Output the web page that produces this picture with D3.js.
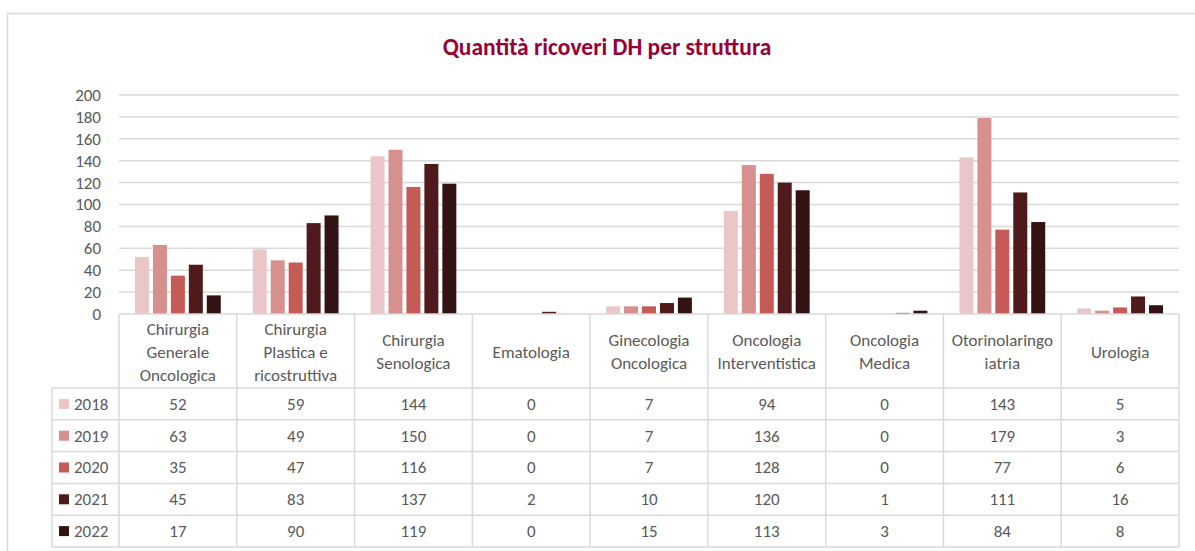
<!DOCTYPE html>
<html>
<head>
<meta charset="utf-8">
<script src="https://cdn.jsdelivr.net/npm/d3@7"></script>
<style>
  body { margin: 0; background: #fff; }
  text { font-family: Carlito, Lato, "Open Sans", sans-serif; }
</style>
</head>
<body>
<div class="chart"></div>
<script>
// data
var categories = ["Chirurgia Generale Oncologica", "Chirurgia Plastica e ricostruttiva", "Chirurgia Senologica",
  "Ematologia", "Ginecologia Oncologica", "Oncologia Interventistica", "Oncologia Medica",
  "Otorinolaringoiatria", "Urologia"]
var categoryLines = [["Chirurgia", "Generale", "Oncologica"], ["Chirurgia", "Plastica e", "ricostruttiva"],
  ["Chirurgia", "Senologica"], ["Ematologia"], ["Ginecologia", "Oncologica"], ["Oncologia", "Interventistica"],
  ["Oncologia", "Medica"], ["Otorinolaringo", "iatria"], ["Urologia"]]
var years = ["2018", "2019", "2020", "2021", "2022"]
var v2018 = [52, 59, 144, 0, 7, 94, 0, 143, 5]
var v2019 = [63, 49, 150, 0, 7, 136, 0, 179, 3]
var v2020 = [35, 47, 116, 0, 7, 128, 0, 77, 6]
var v2021 = [45, 83, 137, 2, 10, 120, 1, 111, 16]
var v2022 = [17, 90, 119, 0, 15, 113, 3, 84, 8]
var yTicks = [0, 20, 40, 60, 80, 100, 120, 140, 160, 180, 200]
var colors = ["#ebc6c6", "#d6908e", "#c45b57", "#4e1a1b", "#331212"]

var series = [v2018, v2019, v2020, v2021, v2022]

var W = 1195, H = 551
var plotLeft = 119, plotRight = 1179, plotTop = 95, base = 314
var tableLeft = 52, headerBottom = 388, rowH = 31.8
var grey = "#d9d9d9", textCol = "#595959", fs = "17px"

var svg = d3.select(".chart").append("svg")
  .attr("width", W).attr("height", H)

// outer frame
svg.append("rect")
  .attr("x", 7.5).attr("y", 13.5)
  .attr("width", W).attr("height", H)
  .attr("fill", "none").attr("stroke", grey).attr("stroke-width", 1.5)

svg.append("text")
  .attr("x", 607).attr("y", 55)
  .attr("text-anchor", "middle")
  .attr("fill", "#990033")
  .style("font-size", "23.5px").style("font-weight", "bold")
  .text("Quantità ricoveri DH per struttura")

var x = d3.scaleBand().domain(categories).range([plotLeft, plotRight])
var x1 = d3.scaleBand().domain(years).range([16, x.bandwidth() - 16]).paddingInner(0.22)
var y = d3.scaleLinear().domain([0, 200]).range([base, plotTop])

// gridlines
svg.append("g").selectAll("line")
  .data(yTicks.slice(1)).enter().append("line")
  .attr("x1", plotLeft).attr("x2", plotRight)
  .attr("y1", function(d){ return y(d) }).attr("y2", function(d){ return y(d) })
  .attr("stroke", grey).attr("stroke-width", 1.5)

// y axis labels
var yAxis = d3.axisLeft(y).tickValues(yTicks).tickSize(0).tickPadding(0)
var gy = svg.append("g")
  .attr("transform", "translate(101,0)")
  .call(yAxis)
gy.select(".domain").remove()
gy.selectAll("text")
  .attr("fill", textCol)
  .style("font-size", fs)

// bars
var groups = svg.append("g").selectAll("g")
  .data(categories).enter().append("g")
  .attr("transform", function(d){ return "translate(" + x(d) + ",0)" })

groups.selectAll("rect")
  .data(function(d, i){ return years.map(function(yr, j){ return {year: yr, value: series[j][i], c: j} }) })
  .enter().append("rect")
  .attr("x", function(d){ return x1(d.year) })
  .attr("width", x1.bandwidth())
  .attr("y", function(d){ return y(d.value) })
  .attr("height", function(d){ return base - y(d.value) })
  .attr("fill", function(d){ return colors[d.c] })

// data table
var tableBottom = headerBottom + rowH * years.length
var table = svg.append("g").attr("stroke", grey).attr("stroke-width", 1.5)

table.append("line")
  .attr("x1", plotLeft).attr("x2", plotRight).attr("y1", base).attr("y2", base)

table.selectAll(".vline")
  .data(categories.concat(["end"])).enter().append("line")
  .attr("class", "vline")
  .attr("x1", function(d){ return d == "end" ? plotRight : x(d) })
  .attr("x2", function(d){ return d == "end" ? plotRight : x(d) })
  .attr("y1", base).attr("y2", tableBottom)

table.selectAll(".hline")
  .data(d3.range(years.length + 1)).enter().append("line")
  .attr("class", "hline")
  .attr("x1", tableLeft).attr("x2", plotRight)
  .attr("y1", function(d){ return headerBottom + d * rowH })
  .attr("y2", function(d){ return headerBottom + d * rowH })

table.append("line")
  .attr("x1", tableLeft).attr("x2", tableLeft)
  .attr("y1", headerBottom).attr("y2", tableBottom)

// header labels
svg.append("g").selectAll("text")
  .data(categories).enter().append("text")
  .attr("text-anchor", "middle")
  .attr("fill", textCol)
  .style("font-size", fs)
  .each(function(d, i){
    var lines = categoryLines[i]
    var cy = (base + headerBottom) / 2 + 1
    var start = cy - (lines.length - 1) * 23 / 2
    d3.select(this).selectAll("tspan")
      .data(lines).enter().append("tspan")
      .attr("x", x(d) + x.bandwidth() / 2)
      .attr("y", function(l, k){ return start + k * 23 })
      .attr("dy", "0.35em")
      .text(function(l){ return l })
  })

// rows
years.forEach(function(yr, j){
  var cy = headerBottom + j * rowH + rowH / 2
  svg.append("rect")
    .attr("x", 59).attr("y", cy - 5)
    .attr("width", 10).attr("height", 10)
    .attr("fill", colors[j])
  svg.append("text")
    .attr("x", 74).attr("y", cy).attr("dy", "0.35em")
    .attr("fill", textCol)
    .style("font-size", fs)
    .text(yr)
  svg.append("g").selectAll("text")
    .data(categories).enter().append("text")
    .attr("x", function(d){ return x(d) + x.bandwidth() / 2 })
    .attr("y", cy).attr("dy", "0.35em")
    .attr("text-anchor", "middle")
    .attr("fill", textCol)
    .style("font-size", fs)
    .text(function(d, i){ return series[j][i] })
})
</script>
</body>
</html>
